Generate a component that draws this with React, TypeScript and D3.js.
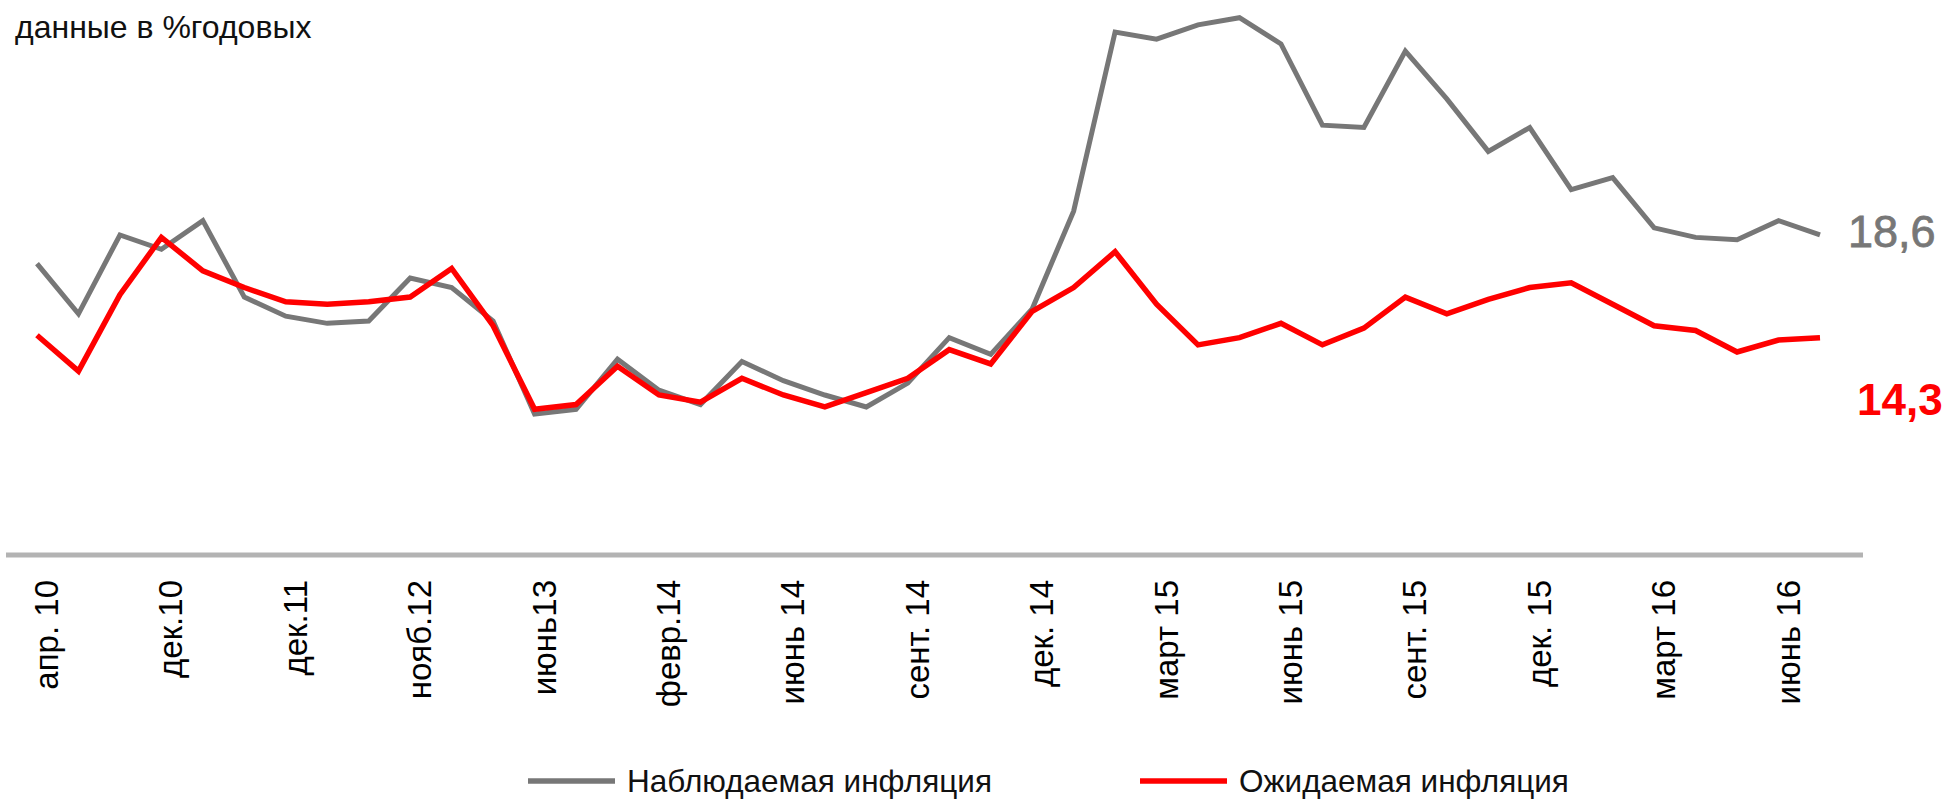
import React from 'react';
import * as d3 from 'd3';

// Наблюдаемая и ожидаемая инфляция, % годовых
const observed = [17.4, 15.3, 18.6, 18.0, 19.2, 16.0, 15.2, 14.9, 15.0, 16.8, 16.4, 15.0, 11.1, 11.3, 13.4,
  12.1, 11.5, 13.3, 12.5, 11.9, 11.4, 12.4, 14.3, 13.6, 15.5, 19.6, 27.1, 26.8, 27.4, 27.7, 26.6, 23.2, 23.1,
  26.3, 24.3, 22.1, 23.1, 20.5, 21.0, 18.9, 18.5, 18.4, 19.2, 18.6];
const expected = [14.4, 12.9, 16.1, 18.5, 17.1, 16.4, 15.8, 15.7, 15.8, 16.0, 17.2, 14.8, 11.3, 11.5, 13.1,
  11.9, 11.6, 12.6, 11.9, 11.4, 12.0, 12.6, 13.8, 13.2, 15.4, 16.4, 17.9, 15.7, 14.0, 14.3, 14.9, 14.0, 14.7,
  16.0, 15.3, 15.9, 16.4, 16.6, 15.7, 14.8, 14.6, 13.7, 14.2, 14.3];
// подписи стоят у каждой третьей точки
const tickLabels = ['апр. 10', 'дек.10', 'дек.11', 'нояб.12', 'июнь13', 'февр.14', 'июнь 14', 'сент. 14',
  'дек. 14', 'март 15', 'июнь 15', 'сент. 15', 'дек. 15', 'март 16', 'июнь 16'];
const tickStep = 3;
const seriesNames = ['Наблюдаемая инфляция', 'Ожидаемая инфляция'];
const lastLabels = ['18,6', '14,3'];

const width = 1948;
const height = 800;
const grey = '#777777';
const red = '#ff0000';
const font = '"Liberation Sans", Arial, sans-serif';

export default function App() {
  const x = d3.scalePoint<number>()
    .domain(d3.range(observed.length))
    .range([37, 1820]);

  const y = d3.scaleLinear()
    .domain([5.2, 28])
    .range([555, 10.5]);

  const line = d3.line<number>()
    .x((d, i) => x(i) as number)
    .y((d) => y(d));

  const last = observed.length - 1;

  return (
    <svg
      width={width}
      height={height}
      style={{ position: 'absolute', left: 0, top: 0, fontFamily: font }}
      xmlns="http://www.w3.org/2000/svg">
      <text x={15} y={38} fontSize={32} fill="#111">данные в %годовых</text>

      <line x1={6} x2={1863} y1={y(5.2)} y2={y(5.2)} stroke="#b3b3b3" strokeWidth={5} />

      <g key="ticks">
        {tickLabels.map((t, k) => (
          <text
            key={`tick-${k}`}
            transform={`translate(${(x(k * tickStep) as number) + 21},580) rotate(-90)`}
            textAnchor="end"
            fontSize={33}
            fill="#000">{t}</text>
        ))}
      </g>

      <path d={line(observed) || ''} fill="none" stroke={grey} strokeWidth={5} strokeLinejoin="miter" />
      <path d={line(expected) || ''} fill="none" stroke={red} strokeWidth={5.5} strokeLinejoin="miter" />

      <text x={1848} y={y(observed[last]) + 12} fontSize={45} fill={grey}
        stroke={grey} strokeWidth={0.8}>{lastLabels[0]}</text>
      <text x={1857} y={y(expected[last]) + 77} fontSize={44} fontWeight="bold" fill={red}>{lastLabels[1]}</text>

      <g key="legend">
        {seriesNames.map((name, i) => (
          <g key={`legend-${i}`} transform={`translate(${i === 0 ? 528 : 1140},781)`}>
            <line x1={0} x2={87} y1={0} y2={0} stroke={i === 0 ? grey : red} strokeWidth={5.5} />
            <text x={99} y={0} dy="0.35em" fontSize={31.5} fill="#111">{name}</text>
          </g>
        ))}
      </g>
    </svg>
  );
}
